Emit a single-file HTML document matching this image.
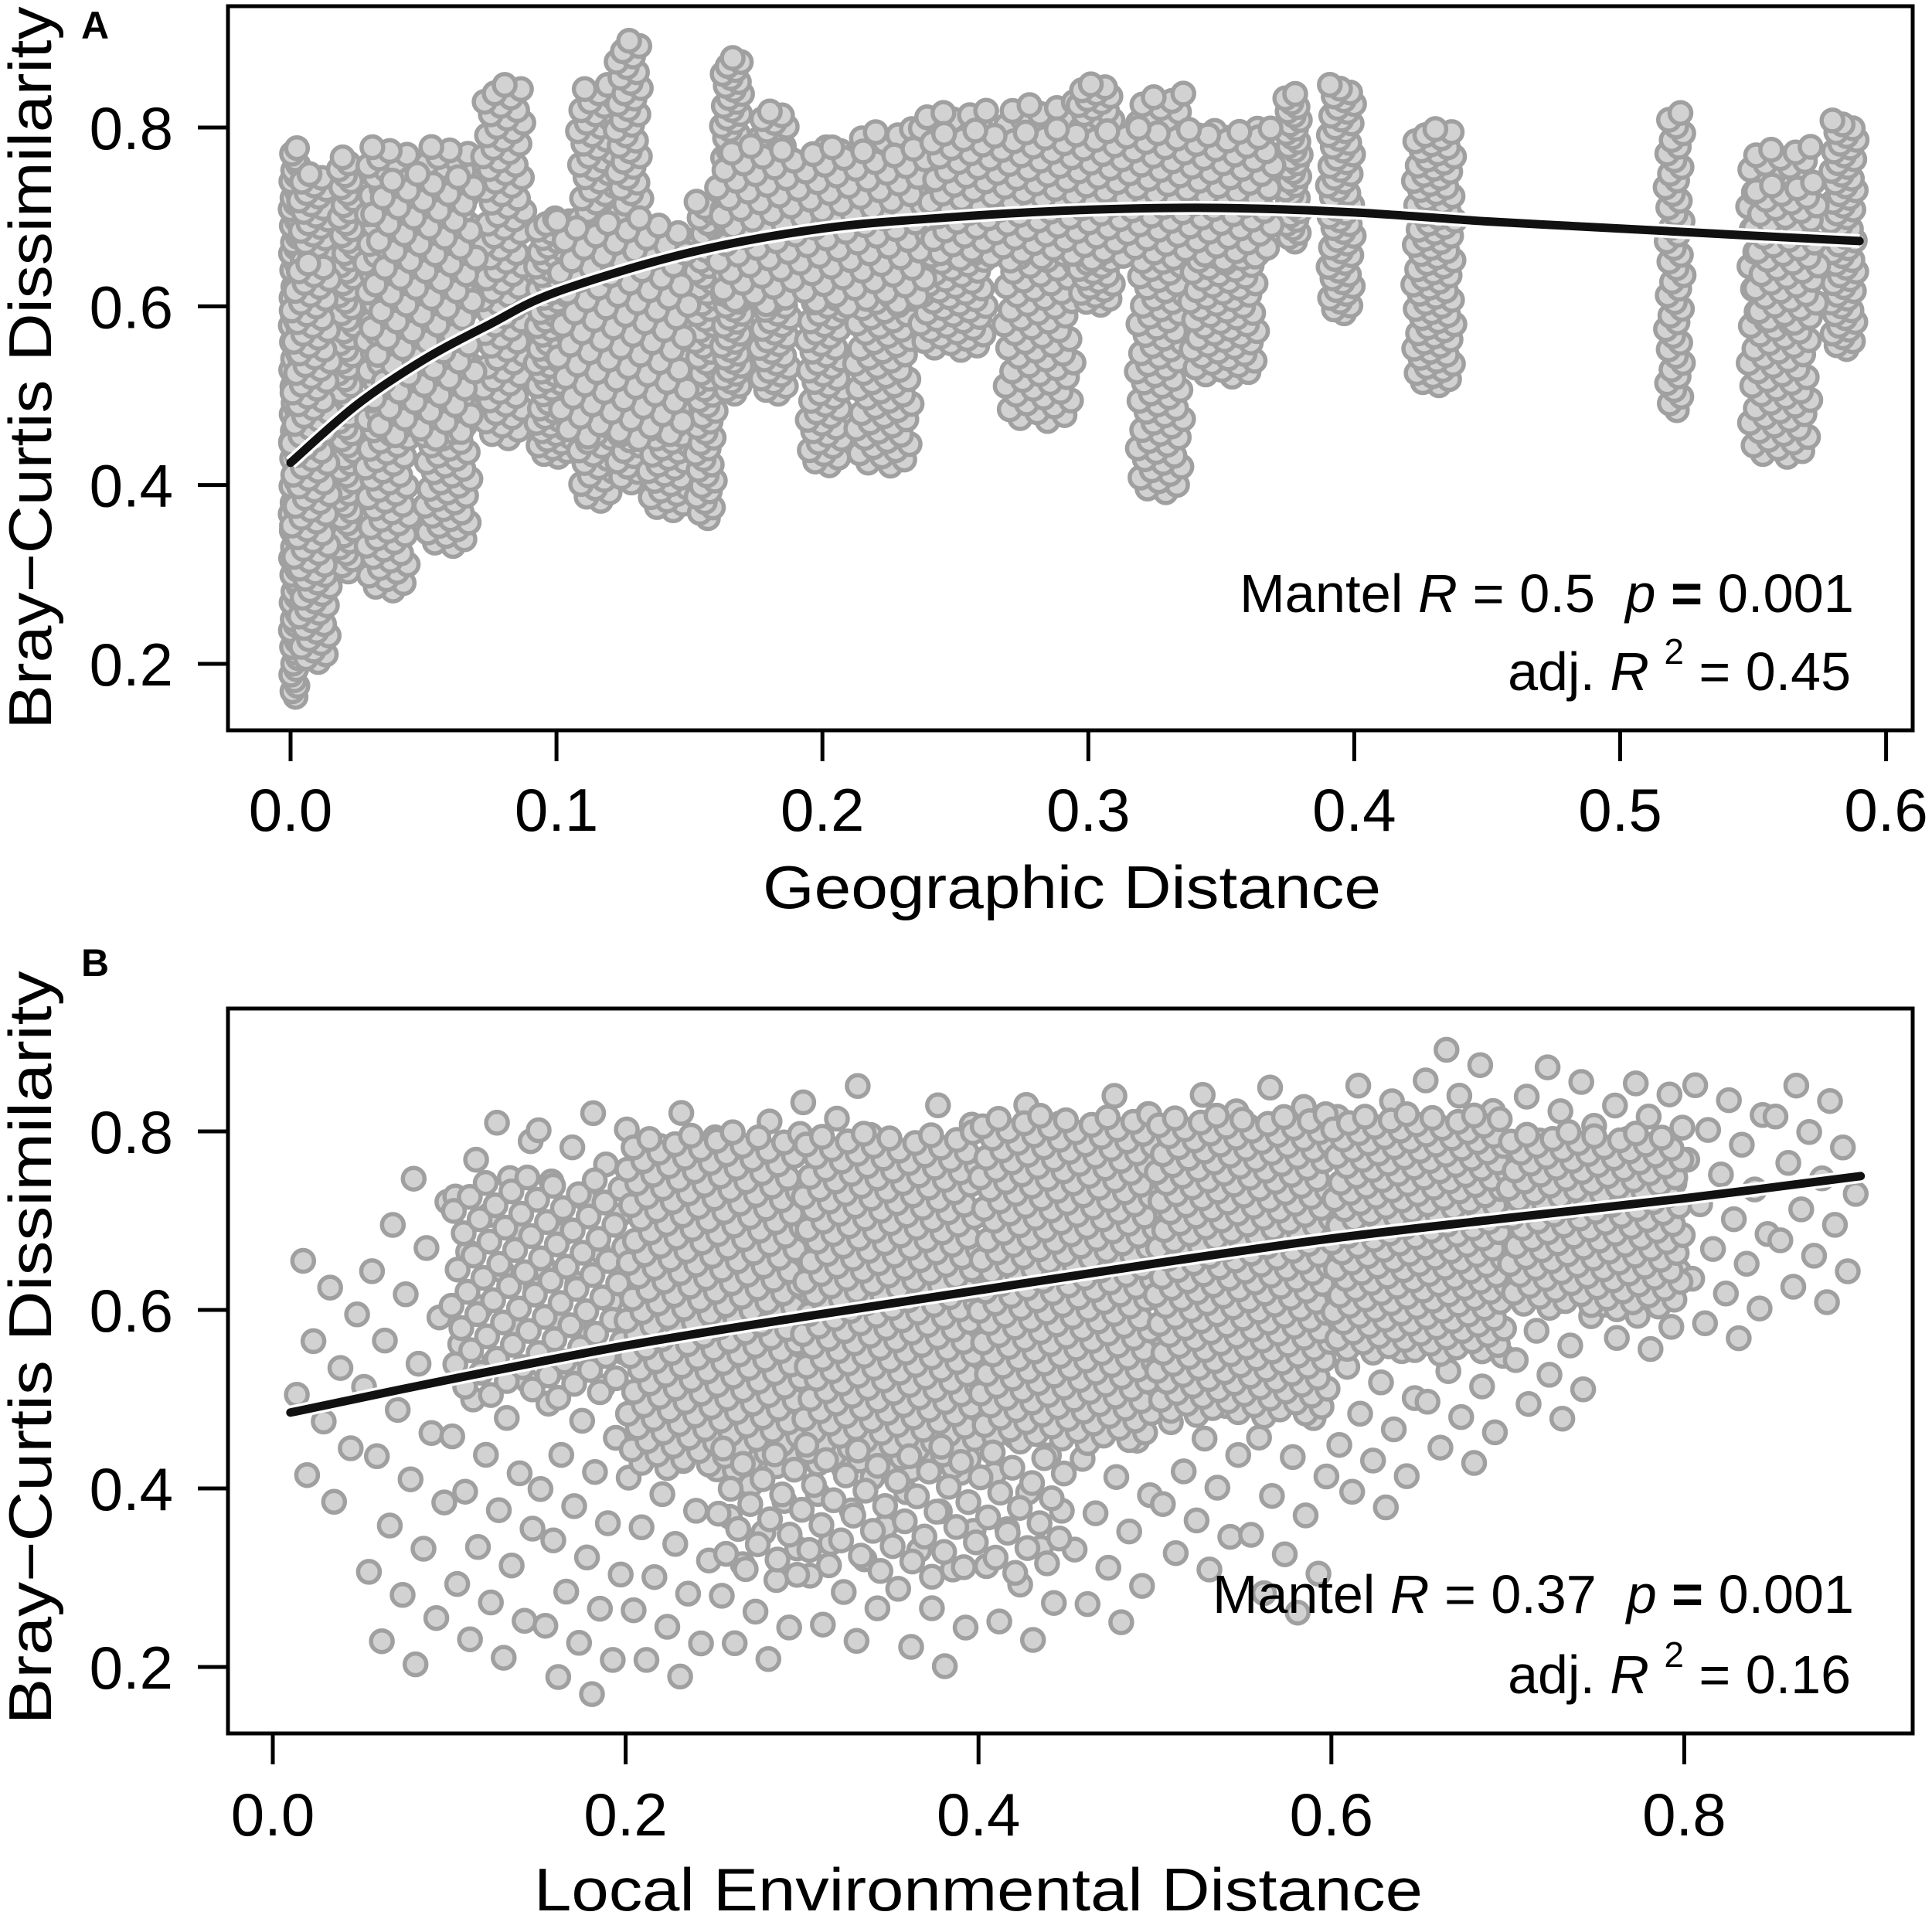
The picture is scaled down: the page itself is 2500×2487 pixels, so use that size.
<!DOCTYPE html>
<html><head><meta charset="utf-8"><style>
html,body{margin:0;padding:0;background:#fff;}
svg{display:block;font-family:"Liberation Sans",Arial,sans-serif;}
</style></head><body>
<svg id="chart" width="2500" height="2487" viewBox="0 0 2500 2487" xmlns="http://www.w3.org/2000/svg">
<rect width="2500" height="2487" fill="#fff"/>
<g id="panelA"></g>
<g id="panelB"></g>
</svg>
<script>
// ---- Panel A data: point clusters [xlo, xhi, ylo, yhi, count]
const clustersA = [
[0,0.003,0.16,0.78,100],[0.003,0.015,0.20,0.75,130],[0.018,0.024,0.30,0.77,70],
[0.028,0.045,0.28,0.78,120],[0.05,0.068,0.33,0.78,120],[0.072,0.088,0.45,0.85,85],
[0.092,0.106,0.43,0.70,85],[0.108,0.122,0.38,0.85,100],[0.122,0.132,0.40,0.90,85],
[0.134,0.15,0.37,0.68,85],[0.152,0.16,0.36,0.72,60],[0.162,0.17,0.50,0.88,85],
[0.176,0.188,0.50,0.82,75],[0.194,0.208,0.42,0.78,85],[0.212,0.234,0.42,0.80,110],
[0.236,0.262,0.55,0.82,110],[0.268,0.295,0.47,0.83,110],[0.296,0.31,0.60,0.85,75],
[0.318,0.336,0.39,0.84,110],[0.338,0.364,0.52,0.80,110],[0.374,0.38,0.67,0.84,35],
[0.39,0.4,0.59,0.85,60],[0.422,0.438,0.51,0.80,85],[0.517,0.524,0.48,0.82,45],
[0.548,0.572,0.43,0.78,110],[0.579,0.589,0.55,0.81,60],
[0.0,0.015,0.3,0.65,80],[0.03,0.07,0.45,0.75,80],[0.1,0.15,0.45,0.7,90],
[0.16,0.24,0.6,0.78,120],[0.24,0.37,0.65,0.8,200],[0.55,0.575,0.58,0.74,50]
];
const fitAx = [0,0.025,0.05,0.075,0.1,0.15,0.2,0.25,0.3,0.35,0.4,0.45,0.5,0.55,0.59];
const fitAy = [0.425,0.49,0.54,0.58,0.616,0.66,0.687,0.70,0.708,0.71,0.705,0.695,0.687,0.679,0.673];
const xTicksA = [0,0.1,0.2,0.3,0.4,0.5,0.6];
const xTickLabelsA = ["0.0","0.1","0.2","0.3","0.4","0.5","0.6"];
const yTicks = [0.2,0.4,0.6,0.8];
const yTickLabels = ["0.2","0.4","0.6","0.8"];

// ---- Panel B data
const clustersB = [
[0.01,0.05,0.37,0.67,10],[0.05,0.1,0.19,0.76,22],[0.1,0.15,0.2,0.82,30],
[0.15,0.2,0.16,0.83,35],[0.2,0.25,0.18,0.83,35],[0.25,0.3,0.2,0.82,35],
[0.3,0.35,0.22,0.86,35],[0.35,0.4,0.19,0.84,30],[0.4,0.45,0.22,0.84,30],
[0.45,0.5,0.24,0.85,30],[0.5,0.55,0.3,0.85,30],[0.55,0.6,0.25,0.86,28],
[0.6,0.65,0.37,0.86,28],[0.65,0.7,0.42,0.9,28],[0.7,0.75,0.47,0.88,25],
[0.75,0.8,0.55,0.86,25],[0.8,0.85,0.56,0.86,18],[0.85,0.9,0.6,0.86,15],
[0.1,0.2,0.5,0.75,80],[0.2,0.3,0.42,0.8,200],[0.3,0.4,0.42,0.8,220],
[0.4,0.5,0.45,0.82,220],[0.5,0.6,0.48,0.82,220],[0.6,0.7,0.55,0.82,190],[0.7,0.8,0.6,0.8,130],
[0.25,0.45,0.3,0.45,70]
];
const fitBx = [0.01,0.1,0.2,0.3,0.4,0.5,0.6,0.7,0.8,0.9];
const fitBy = [0.485,0.522,0.56,0.592,0.622,0.652,0.68,0.703,0.725,0.75];
const xTicksB = [0,0.2,0.4,0.6,0.8];
const xTickLabelsB = ["0.0","0.2","0.4","0.6","0.8"];

const NS = "http://www.w3.org/2000/svg";
function mk(parent, tag, attrs){ const e=document.createElementNS(NS,tag); for(const k in attrs) e.setAttribute(k,attrs[k]); parent.appendChild(e); return e; }

function drawPanel(g, cfg){
  const sx = v => cfg.x0 + (v - cfg.xv0) * cfg.xs;
  const sy = v => cfg.y08 - (v - 0.8) * cfg.ys;
  const pts = mk(g,'g',{});
  
  
  cfg.clusters.forEach((c)=>{
    const n=c[4];
    for(let i=0;i<n;i++){
      const u=((i+1)*0.6180339)%1;
      const v=(i+0.5)/n;
      const ci=mk(pts,'circle',{cx:sx(c[0]+u*(c[1]-c[0])).toFixed(1), cy:sy(c[2]+v*(c[3]-c[2])).toFixed(1), r:14, fill:'#d2d2d2', stroke:'#a0a0a0','stroke-width':5.5});
      
      
    }
  });
  const P = cfg.fx.map((x,i)=>[sx(x), sy(cfg.fy[i])]);
  let d='M'+P[0][0].toFixed(1)+','+P[0][1].toFixed(1);
  for(let i=0;i<P.length-1;i++){
    const p0=P[Math.max(0,i-1)], p1=P[i], p2=P[i+1], p3=P[Math.min(P.length-1,i+2)];
    const c1=[p1[0]+(p2[0]-p0[0])/6, p1[1]+(p2[1]-p0[1])/6];
    const c2=[p2[0]-(p3[0]-p1[0])/6, p2[1]-(p3[1]-p1[1])/6];
    d+='C'+c1[0].toFixed(1)+','+c1[1].toFixed(1)+' '+c2[0].toFixed(1)+','+c2[1].toFixed(1)+' '+p2[0].toFixed(1)+','+p2[1].toFixed(1);
  }
  const halo=mk(g,'path',{d:d,fill:'none',stroke:'#fff','stroke-width':18,'stroke-linejoin':'round'});
  
  
  const fit=mk(g,'path',{d:d,fill:'none',stroke:'#111','stroke-width':11,'stroke-linejoin':'round','stroke-linecap':'round'});
  
  
  const box=mk(g,'rect',{x:295,y:cfg.top,width:2180,height:cfg.bottom-cfg.top,fill:'none',stroke:'#000','stroke-width':5});
  
  
  cfg.xt.forEach((t,i)=>{
    const x=sx(t);
    const tk=mk(g,'line',{x1:x,x2:x,y1:cfg.bottom,y2:cfg.bottom+40,stroke:'#000','stroke-width':5});
    
    
    const tl=mk(g,'text',{x:x,y:cfg.xlabY,'font-size':78,'text-anchor':'middle',fill:'#000'});
    tl.textContent=cfg.xtl[i];
    
    
  });
  yTicks.forEach((t,i)=>{
    const y=sy(t);
    const tk=mk(g,'line',{x1:256,x2:295,y1:y,y2:y,stroke:'#000','stroke-width':5});
    
    
    const tl=mk(g,'text',{x:224,y:y+28,'font-size':78,'text-anchor':'end',fill:'#000'});
    tl.textContent=yTickLabels[i];
    
    
  });
}

drawPanel(document.getElementById('panelA'), {id:'panel-a', x0:376, xv0:0, xs:3441, y08:165, ys:1156.7, top:8, bottom:945,
  clusters:clustersA, fx:fitAx, fy:fitAy, xt:xTicksA, xtl:xTickLabelsA, xlabY:1075});
drawPanel(document.getElementById('panelB'), {id:'panel-b', x0:353, xv0:0, xs:2283, y08:1464, ys:1155, top:1305, bottom:2243,
  clusters:clustersB, fx:fitBx, fy:fitBy, xt:xTicksB, xtl:xTickLabelsB, xlabY:2375});
</script>
<script>
const s=document.getElementById('chart');
s.insertAdjacentHTML('beforeend', `
<text x="105" y="50" font-size="50" font-weight="bold">A</text>
<text x="105" y="1263" font-size="50" font-weight="bold">B</text>
<text transform="translate(66,476) rotate(-90)" text-anchor="middle" font-size="78" textLength="935" lengthAdjust="spacingAndGlyphs">Bray−Curtis Dissimilarity</text>
<text transform="translate(66,1744) rotate(-90)" text-anchor="middle" font-size="78" textLength="975" lengthAdjust="spacingAndGlyphs">Bray−Curtis Dissimilarity</text>
<text x="1387" y="1175" text-anchor="middle" font-size="78" textLength="800" lengthAdjust="spacingAndGlyphs">Geographic Distance</text>
<text x="1266" y="2472" text-anchor="middle" font-size="78" textLength="1150" lengthAdjust="spacingAndGlyphs">Local Environmental Distance</text>
<text x="2399" y="792" text-anchor="end" font-size="70" textLength="795" lengthAdjust="spacingAndGlyphs">Mantel <tspan font-style="italic">R</tspan> = 0.5&#160;&#160;<tspan font-style="italic">p</tspan> <tspan font-weight="bold">=</tspan> 0.001</text>
<text x="2395" y="893" text-anchor="end" font-size="70">adj. <tspan font-style="italic">R</tspan> <tspan font-size="46" dy="-34">2</tspan><tspan dy="34"> = 0.45</tspan></text>
<text x="2399" y="2087" text-anchor="end" font-size="70" textLength="830" lengthAdjust="spacingAndGlyphs">Mantel <tspan font-style="italic">R</tspan> = 0.37&#160;&#160;<tspan font-style="italic">p</tspan> <tspan font-weight="bold">=</tspan> 0.001</text>
<text x="2395" y="2191" text-anchor="end" font-size="70">adj. <tspan font-style="italic">R</tspan> <tspan font-size="46" dy="-34">2</tspan><tspan dy="34"> = 0.16</tspan></text>
`);
</script>
</body></html>
